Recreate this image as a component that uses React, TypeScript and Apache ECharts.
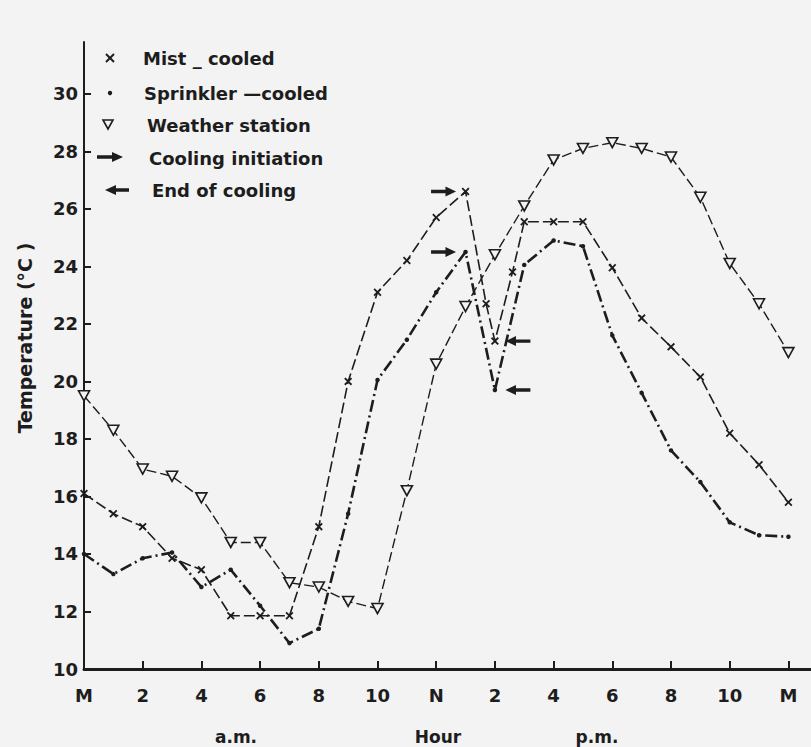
import React, { useEffect, useRef } from 'react';
import * as echarts from 'echarts';

// ---- data (hour of day, temperature °C) ----
const weatherHours = [0, 1, 2, 3, 4, 5, 6, 7, 8, 9, 10, 11, 12, 13, 14, 15, 16, 17, 18, 19, 20, 21, 22, 23, 24];
const weatherTemps = [19.5, 18.3, 16.95, 16.7, 15.95, 14.4, 14.4, 13.0, 12.85, 12.35, 12.1, 16.2, 20.6, 22.6, 24.4, 26.1, 27.7, 28.1, 28.3, 28.1, 27.8, 26.4, 24.1, 22.7, 21.0];

const mistHours = [0, 1, 2, 3, 4, 5, 6, 7, 8, 9, 10, 11, 12, 13, 13.7, 14, 14.6, 15, 16, 17, 18, 19, 20, 21, 22, 23, 24];
const mistTemps = [16.1, 15.4, 14.95, 13.85, 13.45, 11.85, 11.85, 11.85, 14.95, 20.0, 23.1, 24.2, 25.7, 26.6, 22.7, 21.4, 23.8, 25.55, 25.55, 25.55, 23.95, 22.2, 21.2, 20.15, 18.2, 17.1, 15.8];

const sprinklerHours = [0, 1, 2, 3, 4, 5, 6, 7, 8, 9, 10, 11, 12, 13, 14, 15, 16, 17, 18, 19, 20, 21, 22, 23, 24];
const sprinklerTemps = [14.0, 13.3, 13.85, 14.05, 12.85, 13.45, 12.2, 10.9, 11.4, 15.4, 20.05, 21.45, 23.1, 24.5, 19.7, 24.05, 24.9, 24.7, 21.6, 19.6, 17.6, 16.5, 15.1, 14.65, 14.6];

const coolingStartHours = [13, 13];
const coolingStartTemps = [26.6, 24.5];
const coolingEndHours = [14, 14];
const coolingEndTemps = [21.4, 19.7];

const hourTicks = [0, 2, 4, 6, 8, 10, 12, 14, 16, 18, 20, 22, 24];
const hourTickLabels = ['M', '2', '4', '6', '8', '10', 'N', '2', '4', '6', '8', '10', 'M'];
const tempTicks = [10, 12, 14, 16, 18, 20, 22, 24, 26, 28, 30];

const legendLabels = ['Mist _ cooled', 'Sprinkler \u2014cooled', 'Weather station', 'Cooling initiation', 'End of cooling'];

const INK = '#1d1d1d';
const BG = '#f3f3f3';
const FONT = '"DejaVu Sans", sans-serif';

const X_PATH = 'path://M0,1.6L1.6,0L5,3.4L8.4,0L10,1.6L6.6,5L10,8.4L8.4,10L5,6.6L1.6,10L0,8.4L3.4,5Z';
const ARROW_R = 'path://M0,3.6L15,3.6L15,0L26,5.5L15,11L15,7.4L0,7.4Z';
const ARROW_L = 'path://M26,3.6L11,3.6L11,0L0,5.5L11,11L11,7.4L26,7.4Z';

const pairs = (xs: number[], ys: number[]) => xs.map((x, i) => [x, ys[i]]);

function txt(x: number, y: number, text: string, size = 18, align = 'left', rotation = 0) {
  return {
    type: 'text',
    x,
    y,
    rotation,
    silent: true,
    style: {
      text,
      fill: INK,
      fontSize: size,
      fontWeight: 'bold',
      fontFamily: FONT,
      align,
      verticalAlign: 'middle',
      textAlign: align,
      textVerticalAlign: 'middle',
    },
  };
}

export default function App() {
  const ref = useRef<HTMLDivElement>(null);

  useEffect(() => {
    document.body.style.margin = '0';
    document.body.style.background = BG;
    if (!ref.current) return;
    const chart = echarts.init(ref.current, undefined, { renderer: 'svg' });

    const option: any = {
      animation: false,
      backgroundColor: BG,
      grid: { left: 84, right: 0, top: 42, bottom: 78 },
      xAxis: {
        type: 'value',
        min: 0,
        max: 24.77,
        axisLine: { show: true, onZero: false, lineStyle: { color: INK, width: 3 } },
        axisTick: { show: true, inside: true, length: 8, customValues: hourTicks, lineStyle: { color: INK, width: 2 } },
        axisLabel: {
          customValues: hourTicks,
          formatter: (v: number) => hourTickLabels[hourTicks.indexOf(Math.round(v))] ?? '',
          color: INK,
          fontSize: 18,
          fontWeight: 'bold',
          fontFamily: FONT,
          margin: 17,
        },
        splitLine: { show: false },
      },
      yAxis: {
        type: 'value',
        min: 10,
        max: 31.8,
        axisLine: { show: true, onZero: false, lineStyle: { color: INK, width: 2 } },
        axisTick: { show: true, inside: true, length: 7, customValues: tempTicks, lineStyle: { color: INK, width: 2 } },
        axisLabel: {
          customValues: tempTicks,
          color: INK,
          fontSize: 18,
          fontWeight: 'bold',
          fontFamily: FONT,
          margin: 6,
        },
        splitLine: { show: false },
      },
      series: [
        {
          name: 'Weather station',
          type: 'line',
          data: pairs(weatherHours, weatherTemps),
          symbol: 'triangle',
          symbolRotate: 180,
          symbolSize: [11, 10],
          showAllSymbol: true,
          lineStyle: { color: INK, width: 1.4, type: [10, 4] },
          itemStyle: { color: BG, borderColor: INK, borderWidth: 1.6 },
          z: 3,
        },
        {
          name: 'Mist - cooled',
          type: 'line',
          data: pairs(mistHours, mistTemps),
          symbol: X_PATH,
          symbolSize: 8,
          showAllSymbol: true,
          lineStyle: { color: INK, width: 1.6, type: [11, 4] },
          itemStyle: { color: INK },
          z: 4,
        },
        {
          name: 'Sprinkler - cooled',
          type: 'line',
          data: pairs(sprinklerHours, sprinklerTemps),
          symbol: 'circle',
          symbolSize: 4.5,
          showAllSymbol: true,
          lineStyle: { color: INK, width: 2.6, type: [12, 4, 2, 4] },
          itemStyle: { color: INK },
          z: 4,
        },
        {
          name: 'Cooling initiation',
          type: 'scatter',
          data: pairs(coolingStartHours, coolingStartTemps),
          symbol: ARROW_R,
          symbolSize: [25, 10],
          symbolKeepAspect: false,
          symbolOffset: [-22, 0],
          itemStyle: { color: INK, opacity: 1 },
          z: 6,
        },
        {
          name: 'End of cooling',
          type: 'scatter',
          data: pairs(coolingEndHours, coolingEndTemps),
          symbol: ARROW_L,
          symbolSize: [25, 10],
          symbolKeepAspect: false,
          symbolOffset: [23, 0],
          itemStyle: { color: INK, opacity: 1 },
          z: 6,
        },
      ],
      graphic: [
        // legend
        { type: 'line', silent: true, shape: { x1: 106, y1: 54, x2: 114, y2: 62 }, style: { stroke: INK, lineWidth: 2 } },
        { type: 'line', silent: true, shape: { x1: 114, y1: 54, x2: 106, y2: 62 }, style: { stroke: INK, lineWidth: 2 } },
        txt(143, 58, legendLabels[0]),
        { type: 'circle', silent: true, shape: { cx: 110, cy: 93, r: 2.2 }, style: { fill: INK } },
        txt(144, 93, legendLabels[1]),
        { type: 'polygon', silent: true, shape: { points: [[103, 120], [113, 120], [108, 129]] }, style: { fill: BG, stroke: INK, lineWidth: 1.6 } },
        txt(147, 125, legendLabels[2]),
        { type: 'polygon', silent: true, shape: { points: [[97, 155.2], [112, 155.2], [112, 152], [123, 157], [112, 162], [112, 158.8], [97, 158.8]] }, style: { fill: INK } },
        txt(149, 158, legendLabels[3]),
        { type: 'polygon', silent: true, shape: { points: [[105, 190], [116, 185], [116, 188.2], [129, 188.2], [129, 191.8], [116, 191.8], [116, 195]] }, style: { fill: INK } },
        txt(152, 190, legendLabels[4]),
        // axis titles
        txt(25, 338, 'Temperature (\u00B0C )', 19, 'center', Math.PI / 2),
        txt(236, 737, 'a.m.', 17, 'center'),
        txt(438, 737, 'Hour', 17, 'center'),
        txt(597, 737, 'p.m.', 17, 'center'),
      ],
    };

    chart.setOption(option);
    return () => chart.dispose();
  }, []);

  return <div ref={ref} style={{ width: 811, height: 747 }} />;
}
